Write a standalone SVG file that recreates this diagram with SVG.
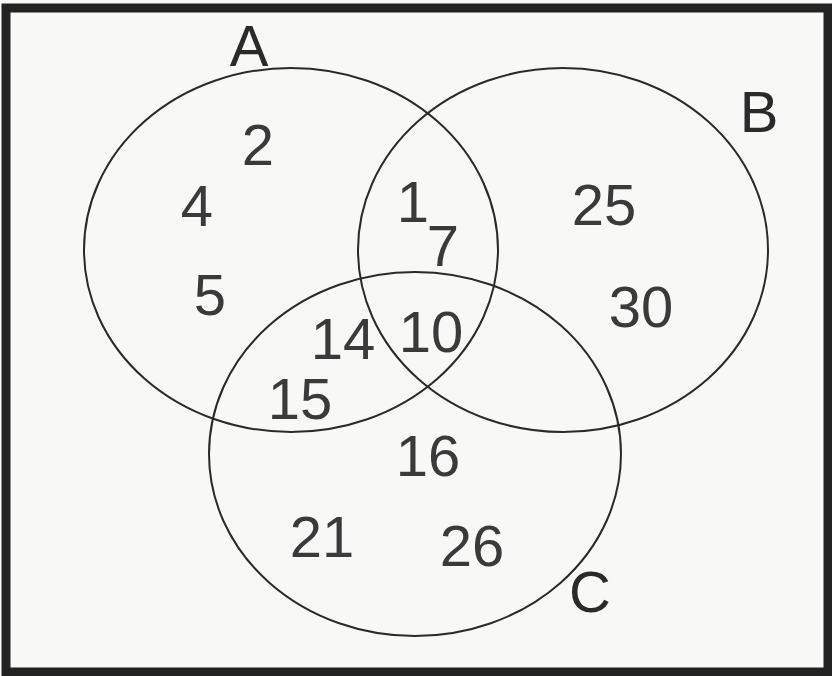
<svg xmlns="http://www.w3.org/2000/svg" width="832" height="676" viewBox="0 0 832 676">
<style>
.set{fill:none;stroke:#2a2a2a;stroke-width:2}
.num{font-family:"Liberation Sans",Arial,sans-serif;font-size:58px;fill:#3a3a3a;text-anchor:middle}
.lbl{font-family:"Liberation Sans",Arial,sans-serif;font-size:58px;fill:#2a2a2a;text-anchor:middle}
</style>
<rect x="0" y="0" width="832" height="676" fill="#f8f8f6"/>
<rect id="frame" x="6" y="8" width="822" height="664" fill="none" stroke="#222" stroke-width="9"/>
<g id="connectors"></g>
<g id="setA">
<ellipse class="set" cx="291" cy="250" rx="207" ry="182"/>
<text class="lbl" x="249" y="66">A</text>
<text class="num" x="258" y="165">2</text>
<text class="num" x="197" y="226">4</text>
<text class="num" x="210" y="315">5</text>
</g>
<g id="setB">
<ellipse class="set" cx="563" cy="250" rx="205" ry="182"/>
<text class="lbl" x="759" y="132">B</text>
<text class="num" x="604" y="225">25</text>
<text class="num" x="641" y="327">30</text>
</g>
<g id="setC">
<ellipse class="set" cx="415" cy="454" rx="206" ry="182"/>
<text class="lbl" x="590" y="612">C</text>
<text class="num" x="428" y="476">16</text>
<text class="num" x="322" y="557">21</text>
<text class="num" x="472" y="566">26</text>
</g>
<g id="overlaps">
<text class="num" x="413" y="222">1</text>
<text class="num" x="443" y="266">7</text>
<text class="num" x="343" y="359">14</text>
<text class="num" x="431" y="352">10</text>
<text class="num" x="300" y="419">15</text>
</g>
</svg>
